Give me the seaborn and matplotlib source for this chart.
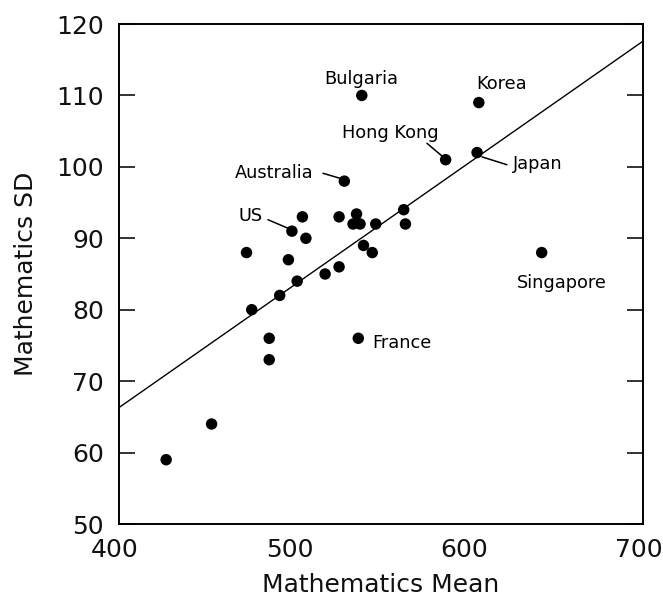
import matplotlib
matplotlib.use("Agg")
import matplotlib.pyplot as plt
import matplotlib.transforms as mtransforms
import seaborn as sns
import pandas as pd

# ---- data ----
math_mean = [427, 453, 476, 486, 486, 499, 505, 507, 473, 497,
             502, 492, 518, 526, 529, 526, 536, 534, 538, 547,
             540, 545, 563, 564, 587, 605, 606, 642, 537, 539]
math_sd = [59, 64, 80, 76, 73, 91, 93, 90, 88, 87,
           84, 82, 85, 86, 98, 93, 93.4, 92, 92, 92,
           89, 88, 94, 92, 101, 102, 109, 88, 76, 110]

fit_x = [400, 700]
fit_y = [66.3, 117.6]

label_names = ["Bulgaria", "Korea", "Hong Kong", "Japan", "Australia", "US", "France", "Singapore"]

x_ticks = [400, 500, 600, 700]
y_ticks = [50, 60, 70, 80, 90, 100, 110, 120]

# ---- layout of the labels (positions only) ----
label_pos = {
    "Bulgaria": (538.5, 112.3, "center"),
    "Korea": (619.0, 111.6, "center"),
    "Hong Kong": (555.5, 104.7, "center"),
    "Japan": (625.6, 100.4, "left"),
    "Australia": (511.5, 99.1, "right"),
    "US": (482.0, 93.1, "right"),
    "France": (544.8, 75.3, "left"),
    "Singapore": (653.6, 83.7, "center"),
}
leader_lines = {
    "US": ((485.3, 92.6), (496.8, 91.4)),
    "Australia": ((516.8, 99.1), (526.5, 98.4)),
    "Hong Kong": ((576.3, 103.3), (585.5, 101.4)),
    "Japan": ((607.8, 101.4), (622.1, 100.3)),
}

df = pd.DataFrame({"Mathematics Mean": math_mean, "Mathematics SD": math_sd})

sns.set_style("white")
plt.rcParams["font.family"] = ["DejaVu Sans"]

fig = plt.figure(figsize=(6.63, 6.0), dpi=100)
ax = fig.add_axes([119 / 663, 76 / 600, (643 - 119) / 663, (524 - 24) / 600])

sns.lineplot(x=fit_x, y=fit_y, ax=ax, color="black", linewidth=1.0)
sns.scatterplot(data=df, x="Mathematics Mean", y="Mathematics SD", ax=ax,
                color="black", s=68, edgecolor="none", zorder=3)

for name in label_names:
    x, y, ha = label_pos[name]
    ax.text(x, y, name, ha=ha, va="center", fontsize=12.8, color="black")
for name, ((x0, y0), (x1, y1)) in leader_lines.items():
    ax.plot([x0, x1], [y0, y1], color="black", linewidth=1.1)

ax.set_xlim(400, 700)
ax.set_ylim(50, 120)
ax.set_xticks(x_ticks)
ax.set_yticks(y_ticks)
ax.tick_params(axis="y", direction="in", length=11.5, width=1.2, left=True, right=True,
               labelsize=18, pad=11, colors="#111111")
ax.tick_params(axis="x", length=0, labelsize=18, pad=10, colors="#111111")
for s in ax.spines.values():
    s.set_visible(True)
    s.set_color("black")
    s.set_linewidth(1.4)

# x tick labels sit slightly left of their ticks in the reference
shift = mtransforms.ScaledTranslation(-4 / 100, 0, fig.dpi_scale_trans)
for lab in ax.get_xticklabels():
    lab.set_transform(lab.get_transform() + shift)

ax.set_xlabel("Mathematics Mean", fontsize=18, labelpad=8, color="#111111")
ax.set_ylabel("Mathematics SD", fontsize=18, labelpad=13, color="#111111")

fig.savefig("out.png", dpi=100, facecolor="white")
